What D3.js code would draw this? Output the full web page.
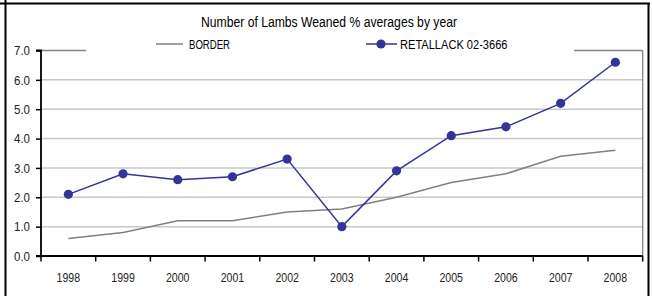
<!DOCTYPE html>
<html><head><meta charset="utf-8">
<script src="https://cdn.jsdelivr.net/npm/d3@7"></script>
<style>
html,body{margin:0;padding:0;background:#fff;}
svg{display:block;}
text{font-family:"Liberation Sans Narrow","Arial Narrow","Liberation Sans",Arial,sans-serif;fill:#000;}
</style></head>
<body>
<script>
const years = ["1998","1999","2000","2001","2002","2003","2004","2005","2006","2007","2008"];
const border = [0.6,0.8,1.2,1.2,1.5,1.6,2.0,2.5,2.8,3.4,3.6];
const retallack = [2.1,2.8,2.6,2.7,3.3,1.0,2.9,4.1,4.4,5.2,6.6];
const yTicks = [0,1,2,3,4,5,6,7];
const title = "Number of Lambs Weaned % averages by year";
const seriesNames = ["BORDER","RETALLACK 02-3666"];

const W = 652, H = 296;
const svg = d3.select("body").append("svg").attr("width",W).attr("height",H);

// outer frame
svg.append("line").attr("x1",0).attr("x2",650).attr("y1",3.5).attr("y2",3.5).attr("stroke","#000").attr("stroke-width",2);
svg.append("line").attr("x1",5.5).attr("x2",5.5).attr("y1",0).attr("y2",H).attr("stroke","#000").attr("stroke-width",2);
svg.append("line").attr("x1",648.5).attr("x2",648.5).attr("y1",3).attr("y2",H).attr("stroke","#000").attr("stroke-width",2);

const L = 41, R = 642.7, T = 50.5, B = 256;
const x = d3.scaleBand().domain(years).range([L,R]);
const y = d3.scaleLinear().domain([0,7]).range([B,T]);

// gridlines
svg.append("g").selectAll("line").data(yTicks.filter(d=>d>0 && d<7)).join("line")
  .attr("x1",L).attr("x2",R).attr("y1",d=>y(d)).attr("y2",d=>y(d))
  .attr("stroke","#c8c8c8").attr("stroke-width",1.5);

// plot border (gray)
svg.append("line").attr("x1",L).attr("x2",R).attr("y1",y(7)).attr("y2",y(7)).attr("stroke","#808080").attr("stroke-width",1.3);
svg.append("line").attr("x1",R).attr("x2",R).attr("y1",y(7)).attr("y2",B).attr("stroke","#808080").attr("stroke-width",1.3);

// axes
const yAxis = svg.append("g").attr("transform",`translate(${L},0)`)
  .call(d3.axisLeft(y).tickValues(yTicks).tickFormat(d3.format(".1f")).tickSize(5).tickPadding(6));
const xAxis = svg.append("g").attr("transform",`translate(0,${B})`)
  .call(d3.axisBottom(x).tickSize(0).tickPadding(17));
[yAxis,xAxis].forEach(g=>{
  g.select(".domain").attr("stroke","#000").attr("stroke-width",1.8);
  g.selectAll(".tick line").attr("stroke","#000").attr("stroke-width",1.5);
  g.selectAll("text").attr("font-size",13).attr("font-family",null).style("fill","#222")
    .attr("lengthAdjust","spacingAndGlyphs");
});
yAxis.selectAll("text").attr("textLength",16);
xAxis.selectAll("text").attr("textLength",23.5);
yAxis.select(".domain").attr("d",`M-5,${B}H0V${T}H-5`);
xAxis.select(".domain").attr("d",`M${L},0H${R}`);
// x tick marks at band boundaries
xAxis.append("g").selectAll("line").data(years.concat(["end"])).join("line")
  .attr("x1",(d,i)=>L+i*x.step()).attr("x2",(d,i)=>L+i*x.step())
  .attr("y1",0).attr("y2",5.5).attr("stroke","#000").attr("stroke-width",1.5);

// series
const cx = d => x(d)+x.bandwidth()/2;
svg.append("path").datum(border)
  .attr("d",d3.line().x((d,i)=>cx(years[i])).y(d=>y(d)))
  .attr("fill","none").attr("stroke","#808080").attr("stroke-width",1.5);
svg.append("path").datum(retallack)
  .attr("d",d3.line().x((d,i)=>cx(years[i])).y(d=>y(d)))
  .attr("fill","none").attr("stroke","#333399").attr("stroke-width",1.5);
svg.append("g").selectAll("circle").data(retallack).join("circle")
  .attr("cx",(d,i)=>cx(years[i])).attr("cy",d=>y(d)).attr("r",4.6).attr("fill","#333399");

// legend with white background
svg.append("rect").attr("x",86).attr("y",36).attr("width",488).attr("height",20).attr("fill","#fff");
const lg = svg.append("g");
lg.append("line").attr("x1",156).attr("x2",183).attr("y1",44).attr("y2",44).attr("stroke","#808080").attr("stroke-width",1.5);
lg.append("text").attr("x",189).attr("y",48.8).attr("font-size",12).attr("textLength",41).attr("lengthAdjust","spacingAndGlyphs").text(seriesNames[0]);
lg.append("line").attr("x1",366).attr("x2",397).attr("y1",44).attr("y2",44).attr("stroke","#333399").attr("stroke-width",1.5);
lg.append("circle").attr("cx",381).attr("cy",44).attr("r",4.6).attr("fill","#333399");
lg.append("text").attr("x",400).attr("y",48.8).attr("font-size",12).attr("textLength",107.5).attr("lengthAdjust","spacingAndGlyphs").text(seriesNames[1]);

// title
svg.append("text").attr("x",329).attr("y",26.5).attr("text-anchor","middle").attr("font-size",14)
  .attr("textLength",256).attr("lengthAdjust","spacingAndGlyphs").text(title);
</script>
</body></html>
